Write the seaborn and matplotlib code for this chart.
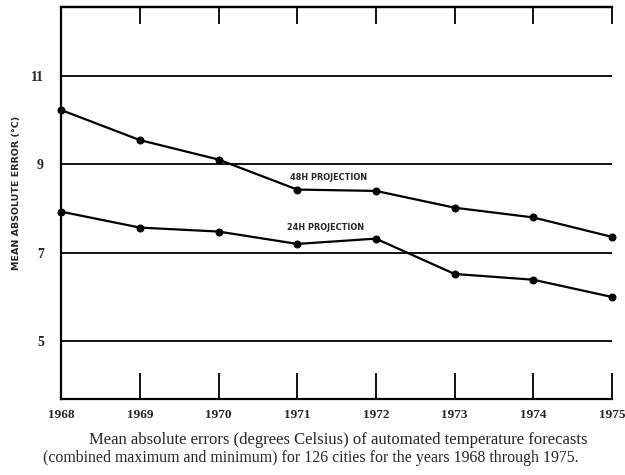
import matplotlib
matplotlib.use("Agg")
import matplotlib.pyplot as plt
import seaborn as sns
import pandas as pd

years = [1968, 1969, 1970, 1971, 1972, 1973, 1974, 1975]
err_48h = [10.23, 9.55, 9.11, 8.43, 8.40, 8.02, 7.80, 7.36]
err_24h = [7.93, 7.57, 7.48, 7.20, 7.32, 6.52, 6.39, 6.00]
series_names = ["48H PROJECTION", "24H PROJECTION"]
y_ticks = [5, 7, 9, 11]
caption_1 = "Mean absolute errors (degrees Celsius) of automated temperature forecasts"
caption_2 = "(combined maximum and minimum) for 126 cities for the years 1968 through 1975."
y_label = "MEAN ABSOLUTE ERROR (°C)"

df = pd.DataFrame({
    "year": years * 2,
    "error": err_48h + err_24h,
    "series": [series_names[0]] * len(years) + [series_names[1]] * len(years),
})

sns.set_style("white")
plt.rcParams["font.family"] = ["Liberation Serif", "DejaVu Serif"]

fig = plt.figure(figsize=(6.25, 4.75), dpi=100)
ax = fig.add_axes([0.098, 0.16, 0.881, 0.825])

for yv in y_ticks:
    ax.axhline(yv, color="black", lw=1.3, zorder=1)

sns.lineplot(data=df, x="year", y="error", hue="series",
             palette=["black", "black"], marker="o", markersize=5,
             markeredgecolor="black", lw=1.6, legend=False, ax=ax, zorder=3,
             clip_on=False)

ax.set_xlim(1968, 1975)
ax.set_ylim(3.69, 12.56)
ax.set_xticks(years)
ax.set_xticklabels([str(y) for y in years], fontsize=9.5, fontweight="bold")
ax.set_yticks(y_ticks)
ax.set_yticklabels([str(v) for v in y_ticks], fontsize=10, fontweight="bold")
ax.tick_params(axis="x", direction="in", length=19, width=1.3, top=False,
               bottom=True, pad=7, color="black")
ax.tick_params(axis="y", left=False, right=False, pad=9)

top = ax.secondary_xaxis("top")
top.set_xticks(years)
top.tick_params(direction="in", length=12, width=1.3, labeltop=False, color="black")
top.spines["top"].set_linewidth(1.6)

for side in ["left", "bottom", "top"]:
    ax.spines[side].set_visible(True)
    ax.spines[side].set_color("black")
    ax.spines[side].set_linewidth(1.6)
ax.spines["right"].set_visible(False)
ax.set_xlabel("")
ax.set_ylabel(y_label, fontsize=6.8, fontweight="bold", family="DejaVu Sans")
ax.yaxis.set_label_coords(-0.074, 0.525)

ax.text(1970.91, 8.7, series_names[0], fontsize=5.9, fontweight="bold",
        family="DejaVu Sans", va="center")
ax.text(1970.87, 7.57, series_names[1], fontsize=5.9, fontweight="bold",
        family="DejaVu Sans", va="center")

fig.text(89 / 625, 1 - 440 / 475, caption_1, ha="left", va="center", fontsize=12)
fig.text(43 / 625, 1 - 458 / 475, caption_2, ha="left", va="center", fontsize=11.4)

fig.savefig("out.png", dpi=100, facecolor="white")
